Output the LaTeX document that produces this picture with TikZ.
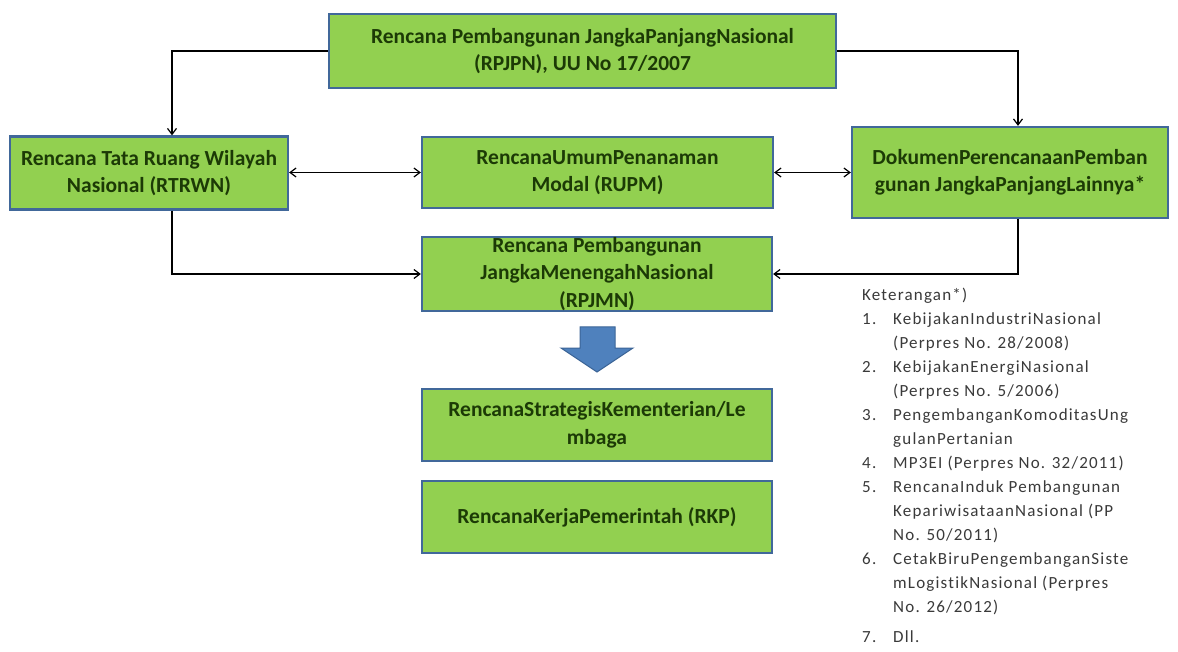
\documentclass[tikz,border=0pt]{standalone}
\usepackage{fontspec}
\setmainfont{Carlito}[Ligatures=NoCommon]
\newfontfamily\notefont[LetterSpace=7,Ligatures=NoCommon]{Carlito}
\usetikzlibrary{arrows.meta}
\definecolor{boxgreen}{HTML}{92D050}
\definecolor{boxedge}{HTML}{41689A}
\definecolor{boxtext}{HTML}{1C3A06}
\definecolor{arrowblue}{HTML}{4F81BD}
\definecolor{arrowedge}{HTML}{3C6597}
\definecolor{notegray}{HTML}{3A3A3A}
\tikzset{
  planbox/.style={draw=boxedge, line width=2.2pt, fill=boxgreen, rectangle,
    inner sep=0pt, align=center, text=boxtext,
    font=\bfseries\fontsize{21.5}{27.5}\selectfont},
  link/.style={line width=1.2pt, -{Straight Barb[length=6pt,width=9pt]}},
  twoway/.style={line width=1.2pt, {Straight Barb[length=6pt,width=9pt]}-{Straight Barb[length=6pt,width=9pt]}},
}
\begin{document}
\begin{tikzpicture}[x=1pt,y=-1pt]
\useasboundingbox (0,0) rectangle (1178,652);
\fill[white] (0,0) rectangle (1178,652);

% planning documents
\node[planbox, minimum width=507pt, minimum height=74pt] (rpjpn) at (582.5,51)
  {Rencana Pembangunan JangkaPanjangNasional\\(RPJPN), UU No 17/2007};
\node[planbox, minimum width=278pt, minimum height=73pt] (rtrwn) at (149,173)
  {Rencana Tata Ruang Wilayah\\Nasional (RTRWN)};
\node[planbox, minimum width=351pt, minimum height=71pt] (rupm) at (597.5,172.5)
  {RencanaUmumPenanaman\\Modal (RUPM)};
\node[planbox, minimum width=316pt, minimum height=91pt] (dok) at (1010,172.5)
  {DokumenPerencanaanPemban\\gunan JangkaPanjangLainnya*};
\node[planbox, minimum width=350pt, minimum height=74pt] (rpjmn) at (597,274)
  {Rencana Pembangunan\\JangkaMenengahNasional\\(RPJMN)};
\node[planbox, minimum width=350pt, minimum height=72pt] (renstra) at (597,425)
  {RencanaStrategisKementerian/Le\\mbaga};
\node[planbox, minimum width=350pt, minimum height=72pt] (rkp) at (597,517)
  {RencanaKerjaPemerintah (RKP)};

% connectors
\coordinate (lx) at (172,0);
\coordinate (rx) at (1018,0);
\draw[link] (rpjpn.west) -| (rtrwn.north -| lx);
\draw[link] (rpjpn.east) -| (dok.north -| rx);
\draw[twoway] (rtrwn.east |- rupm.west) -- (rupm.west);
\draw[twoway] (rupm.east) -- (dok.west |- rupm.east);
\draw[link] (rtrwn.south -| lx) |- (rpjmn.west);
\draw[link] (dok.south -| rx) |- (rpjmn.east);

% block arrow towards the strategic plans
\draw[fill=arrowblue, draw=arrowedge, line width=1pt]
  (580,327) -- (615,327) -- (615,348) -- (633,348) -- (597,372)
  -- (561,348) -- (580,348) -- cycle;

% notes
\node[anchor=north west, inner sep=0pt, align=left, text=notegray,
      font=\notefont\fontsize{17}{24}\selectfont] (notes) at (862,288)
  {Keterangan*)\\
   \makebox[31pt][l]{1.}KebijakanIndustriNasional\\
   \hspace*{31pt}(Perpres No. 28/2008)\\
   \makebox[31pt][l]{2.}KebijakanEnergiNasional\\
   \hspace*{31pt}(Perpres No. 5/2006)\\
   \makebox[31pt][l]{3.}PengembanganKomoditasUng\\
   \hspace*{31pt}gulanPertanian\\
   \makebox[31pt][l]{4.}MP3EI (Perpres No. 32/2011)\\
   \makebox[31pt][l]{5.}RencanaInduk Pembangunan\\
   \hspace*{31pt}KepariwisataanNasional (PP\\
   \hspace*{31pt}No. 50/2011)\\
   \makebox[31pt][l]{6.}CetakBiruPengembanganSiste\\
   \hspace*{31pt}mLogistikNasional (Perpres\\
   \hspace*{31pt}No. 26/2012)\\[6pt]
   \makebox[31pt][l]{7.}Dll.};
\end{tikzpicture}
\end{document}
